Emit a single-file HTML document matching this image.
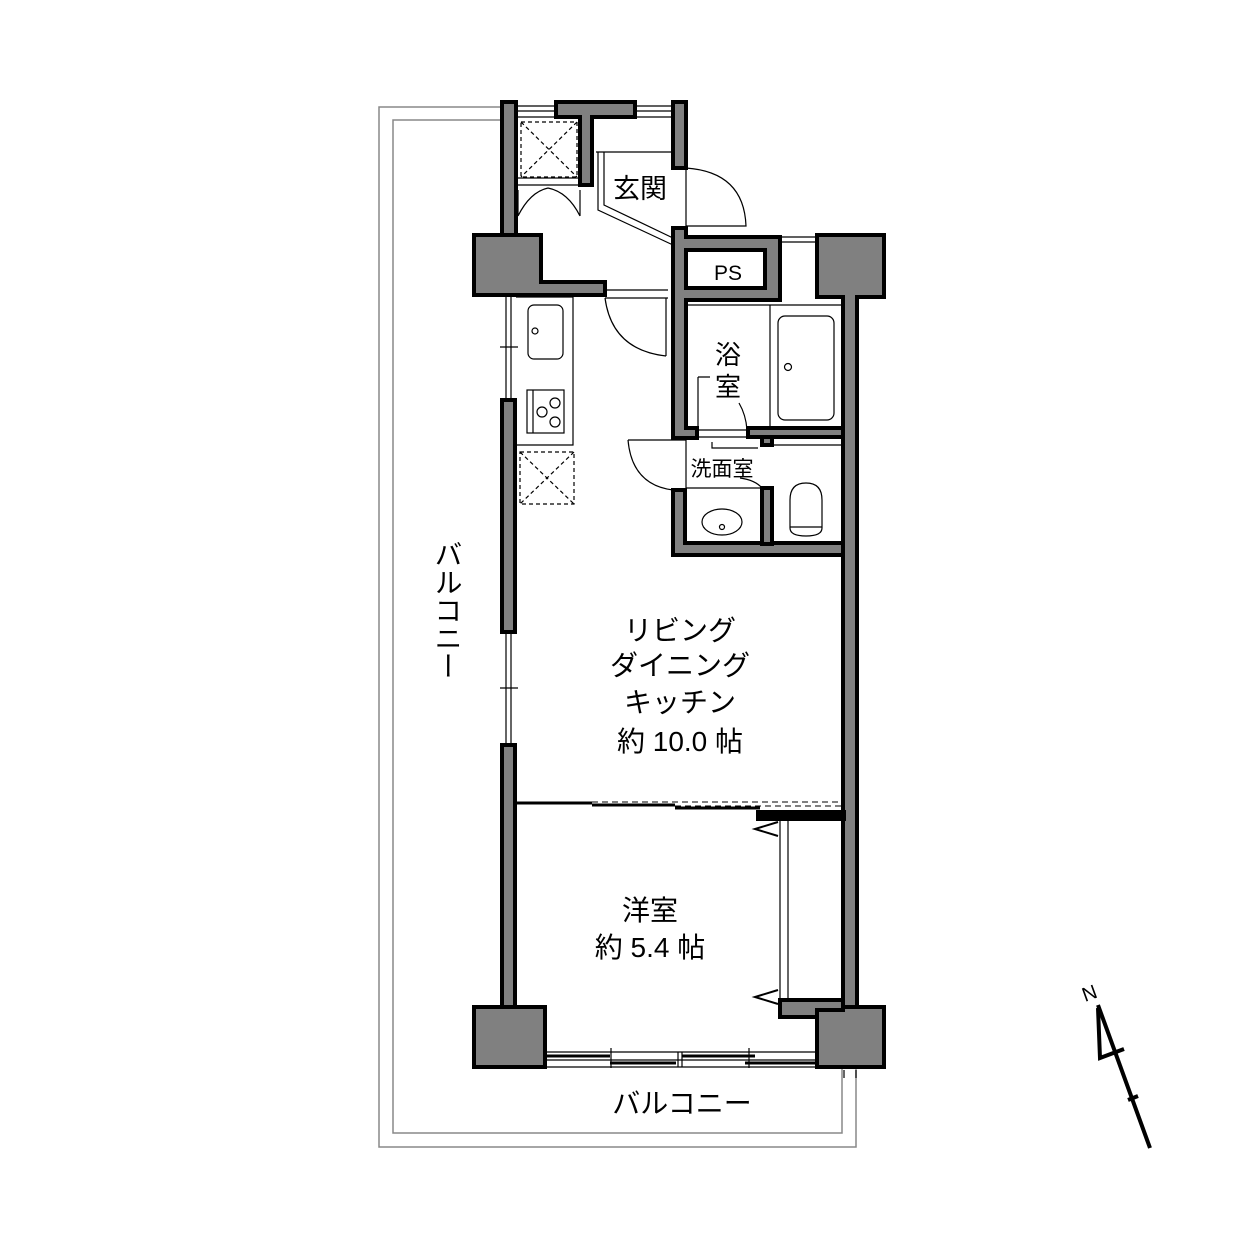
<!DOCTYPE html>
<html><head><meta charset="utf-8"><style>
html,body{margin:0;padding:0;background:#fff}
svg{display:block}
text{font-family:"Liberation Sans","Noto Sans CJK JP",sans-serif;fill:#000}
</style></head><body>
<svg width="1252" height="1252" viewBox="0 0 1252 1252" xmlns="http://www.w3.org/2000/svg">
<path d="M502 107 H379 V1147 H856 V1068" fill="none" stroke="#888" stroke-width="1.5"/>
<path d="M502 120 H393 V1133 H842 V1068" fill="none" stroke="#888" stroke-width="1.5"/>
<g fill="none" stroke="#000" stroke-width="1.2">
<path d="M516 106 H556 M516 111 H556 M516 117 H556 M635 106 H673 M635 111 H673 M635 117 H673"/>
<path d="M780 237 H817 M780 242 H817"/>
</g>
<g stroke="#000" stroke-width="4" fill="#808080">
<rect x="502" y="102" width="14" height="133"/>
<path d="M474 235 H541 V282 H605 V295 H474 Z"/>
<path d="M556 102 H635 V117 H592 V185 H580 V117 H556 Z"/>
<rect x="673" y="102" width="13" height="66"/>
<rect x="502" y="400" width="13" height="232"/>
<rect x="502" y="745" width="13" height="265"/>
<path d="M673 228 H686 V237 H780 V300 H686 V428 H697 V438 H673 Z"/>
<path d="M673 490 H685 V543 H843 V555 H673 Z"/>
<path d="M817 235 H884 V297 H857 V1010 H843 V297 H817 Z"/>
<rect x="748" y="428" width="95" height="9"/>
<rect x="762" y="437" width="10" height="8"/>
<rect x="762" y="488" width="10" height="56"/>
<path d="M474 1007 H545 V1067 H474 Z"/>
<path d="M817 1007 H884 V1067 H817 Z"/>
<path d="M780 1000 H843 V1010 H817 V1017 H780 Z"/>
<rect x="758" y="812" width="86" height="7" fill="#000"/>
</g>
<rect x="686" y="250" width="79" height="38" fill="#fff" stroke="#000" stroke-width="4"/>
<text x="728" y="280" font-size="21" text-anchor="middle">PS</text>
<g fill="none" stroke="#000" stroke-width="1.2">
<rect x="521" y="122" width="56" height="55" stroke-dasharray="4 3"/>
<path d="M521 122 L577 177 M577 122 L521 177" stroke-dasharray="4 3"/>
<path d="M518 178 H580 M518 185 H580"/>
<path d="M518 216 Q530 192 548 188 M580 216 Q568 192 548 188 M518 190 V216 M580 190 V216"/>
<path d="M596 152 H673 M598 152 V210 L673 245 M604 152 V205 L673 238"/>
<path d="M686 168 V226 M686 168 Q744 172 746 226 H686"/>
<path d="M605 290 H668 M605 298 H668 M666 298 V356 M605 298 Q612 350 666 356"/>
<path d="M516 297 H573 V445 H516"/>
<rect x="528" y="305" width="35" height="54" rx="6"/>
<circle cx="535" cy="331" r="3"/>
<rect x="527" y="390" width="37" height="43"/>
<path d="M533 390 V433"/>
<circle cx="555" cy="403" r="5"/><circle cx="542" cy="412" r="5"/><circle cx="555" cy="422" r="5"/>
<rect x="520" y="452" width="54" height="52" stroke-dasharray="4 3"/>
<path d="M520 452 L574 504 M574 452 L520 504" stroke-dasharray="4 3"/>
<path d="M506 297 V400 M511 297 V400 M500 347 H518 M506 632 V745 M511 632 V745 M500 688 H518"/>
<path d="M770 305 V430 M686 305 H843"/>
<rect x="778" y="316" width="56" height="104" rx="7"/>
<circle cx="788" cy="367" r="3.5"/>
<path d="M698 377 H710 M698 377 V430 M739 403 Q746 415 747 430 M697 430 H748 M697 437 H748"/>
<path d="M686 440 V488 M686 488 H762 M712 442 V448 H758 M740 478 Q755 480 762 488"/>
<path d="M628 440 H686 M628 440 Q632 485 673 490"/>
<ellipse cx="722" cy="522" rx="20" ry="13"/>
<circle cx="722" cy="527" r="2.5"/>
<path d="M772 445 H843"/>
<path d="M790 528 V500 Q790 483 806 483 Q822 483 822 500 V528 Q822 536 806 536 Q790 536 790 528 M790 527 H822"/>
<path d="M516 803 H592" stroke-width="3"/>
<path d="M592 805 H675 M675 808 H760" stroke-width="3"/>
<path d="M592 802 H843 M675 806 H843" stroke-dasharray="6 4" stroke-width="1"/>
<path d="M780 819 V1000 M788 819 V1000"/>
<path d="M778 822 L755 829 L778 836 M778 990 L755 997 L778 1004" stroke-width="2"/>
<path d="M545 1052 H817 M545 1060 H817 M545 1067 H817"/>
<path d="M545 1056 H610 M610 1063 H676 M682 1056 H755 M745 1063 H817" stroke-width="3"/>
<path d="M611 1048 V1068 M749 1048 V1068 M678 1052 V1067 M682 1052 V1067"/>
<path d="M844 1070 V1078 M856 1070 V1078"/>
<path d="M1098 1005 L1150 1148" stroke-width="4"/>
<path d="M1098 1008 L1100 1058 L1124 1049 M1128 1100 L1138 1096" stroke-width="4"/>
</g>
<text x="1082" y="999" font-size="20" transform="rotate(-20 1092 992)">N</text>
<text x="640" y="198" font-size="27" text-anchor="middle">玄関</text>
<text x="728" y="364" font-size="26" text-anchor="middle">浴</text>
<text x="728" y="396" font-size="26" text-anchor="middle">室</text>
<text x="722" y="476" font-size="21" text-anchor="middle">洗面室</text>
<g font-size="28" text-anchor="middle">
<text x="680" y="640">リビング</text>
<text x="680" y="675">ダイニング</text>
<text x="680" y="712">キッチン</text>
<text x="680" y="751">約 10.0 帖</text>
<text x="650" y="920">洋室</text>
<text x="650" y="957">約 5.4 帖</text>
<text x="682" y="1113">バルコニー</text>
</g>
<text x="447" y="540" font-size="28" style="writing-mode:vertical-rl">バルコニー</text>
</svg>
</body></html>
